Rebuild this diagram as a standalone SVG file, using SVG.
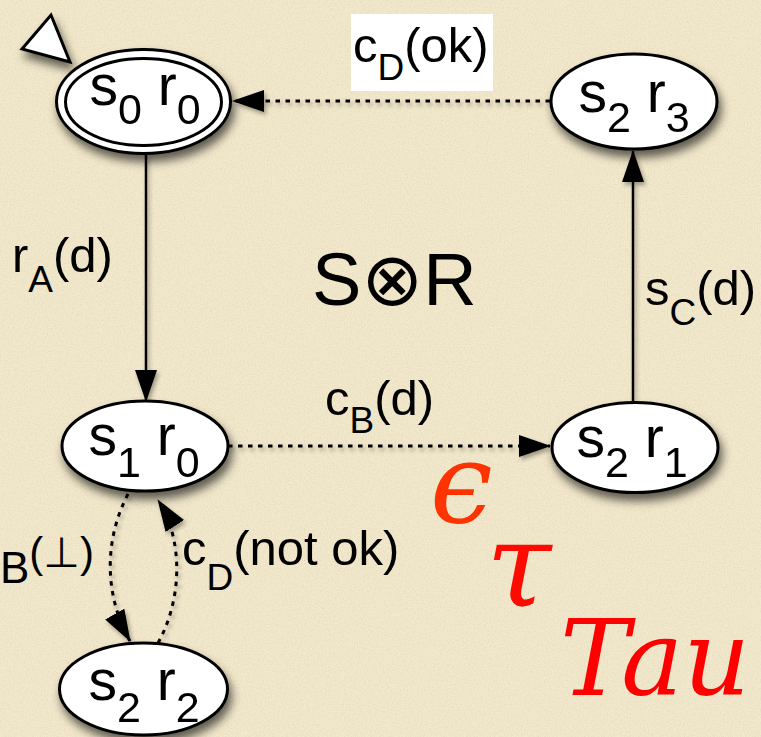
<svg xmlns="http://www.w3.org/2000/svg" width="761" height="737" viewBox="0 0 761 737">
<defs>
<style>
.bg{fill:#f2e8cc}
.node ellipse{fill:#fff;stroke:#000;stroke-width:3}
.nt{font-family:"Liberation Sans",Arial,sans-serif;font-size:57px;fill:#000;text-anchor:middle}
.ns{font-size:43px}
.lbl{font-family:"Liberation Sans","DejaVu Sans",Arial,sans-serif;font-size:49px;fill:#000}
.ls{font-size:37px}
.big{font-size:74px}
.bb{font-size:44px}
.mid{font-size:42px}
.edge{fill:none;stroke:#000;stroke-width:2.5}
.dot{stroke-width:3;stroke-dasharray:4.5 5.5}
.math{font-family:"DejaVu Serif","Liberation Serif",serif;font-style:italic}
</style>
<filter id="paper" x="0" y="0" width="100%" height="100%">
<feTurbulence type="fractalNoise" baseFrequency="0.7" numOctaves="3" seed="4"/>
<feColorMatrix type="matrix" values="0 0 0 0 0.45  0 0 0 0 0.38  0 0 0 0 0.22  1 0 0 0 -0.4"/>
</filter>
<filter id="sh" x="-30%" y="-30%" width="160%" height="170%">
<feDropShadow dx="3" dy="7" stdDeviation="5" flood-color="#000" flood-opacity="0.6"/>
</filter>
<filter id="lsh" x="-30%" y="-30%" width="160%" height="160%">
<feDropShadow dx="2" dy="3" stdDeviation="2" flood-color="#000" flood-opacity="0.35"/>
</filter>
<marker id="ah" viewBox="0 0 32 22" refX="31" refY="11" markerWidth="32" markerHeight="22" markerUnits="userSpaceOnUse" orient="auto">
<path d="M0,0 L32,11 L0,22 z" fill="#000"/>
</marker>
</defs>
<rect class="bg" x="0" y="0" width="761" height="737"/>
<rect x="0" y="0" width="761" height="737" filter="url(#paper)" opacity="0.4"/>

<g id="connectors" filter="url(#lsh)">
<path class="edge" d="M146,155 L146,401" marker-end="url(#ah)"/>
<path class="edge dot" d="M228,446 L550,446" marker-end="url(#ah)"/>
<path class="edge" d="M633,402 L633,151" marker-end="url(#ah)"/>
<path class="edge dot" d="M550,101 L233,101" marker-end="url(#ah)"/>
<path class="edge dot" d="M128,494 C104,540 104,595 130,641" marker-end="url(#ah)"/>
<path class="edge dot" d="M158,643 C182,600 184,540 158,500" marker-end="url(#ah)"/>
</g>

<g id="start" filter="url(#sh)">
<polygon points="22,49 51,15 70,62" fill="#fff" stroke="#000" stroke-width="3" stroke-linejoin="miter"/>
</g>

<g id="n_s0r0" class="node" filter="url(#sh)">
<ellipse cx="143.5" cy="101.5" rx="87" ry="52"/>
<ellipse cx="143.5" cy="102" rx="78" ry="43.5"/>
<text class="nt" x="145" y="105">s<tspan class="ns" dy="19">0</tspan><tspan dy="-19"> r</tspan><tspan class="ns" dy="19">0</tspan></text>
</g>
<g id="n_s2r3" class="node" filter="url(#sh)">
<ellipse cx="634" cy="101.5" rx="83" ry="47.5"/>
<text class="nt" x="634" y="112">s<tspan class="ns" dy="20">2</tspan><tspan dy="-20"> r</tspan><tspan class="ns" dy="20">3</tspan></text>
</g>
<g id="n_s1r0" class="node" filter="url(#sh)">
<ellipse cx="145" cy="446" rx="83" ry="45"/>
<text class="nt" x="144" y="455">s<tspan class="ns" dy="22">1</tspan><tspan dy="-22"> r</tspan><tspan class="ns" dy="22">0</tspan></text>
</g>
<g id="n_s2r1" class="node" filter="url(#sh)">
<ellipse cx="635" cy="447.5" rx="83" ry="45"/>
<text class="nt" x="632" y="457">s<tspan class="ns" dy="20">2</tspan><tspan dy="-20"> r</tspan><tspan class="ns" dy="20">1</tspan></text>
</g>
<g id="n_s2r2" class="node" filter="url(#sh)">
<ellipse cx="143.5" cy="689" rx="84" ry="46"/>
<text class="nt" x="144" y="700">s<tspan class="ns" dy="22">2</tspan><tspan dy="-22"> r</tspan><tspan class="ns" dy="22">2</tspan></text>
</g>

<g id="labels">
<rect x="351" y="14" width="142" height="77" fill="#fff"/>
<text class="lbl" x="353" y="62">c<tspan class="ls" dy="18">D</tspan><tspan dy="-18">(ok)</tspan></text>
<text class="lbl" x="12" y="272">r<tspan class="ls" dy="20">A</tspan><tspan dy="-20">(d)</tspan></text>
<text class="lbl big" x="312" y="305">S⊗R</text>
<text class="lbl" x="645" y="305">s<tspan class="ls" dy="20">C</tspan><tspan dy="-20">(d)</tspan></text>
<text class="lbl" x="325" y="415">c<tspan class="ls" dy="18">B</tspan><tspan dy="-18">(d)</tspan></text>
<text class="lbl" x="0" y="583"><tspan class="bb">B</tspan><tspan class="mid" dy="-16">(⊥)</tspan></text>
<text class="lbl" x="182" y="565">c<tspan class="ls" dy="25">D</tspan><tspan dy="-25">(not ok)</tspan></text>
<text class="math" x="430" y="522" font-size="112" fill="#ff3300">ϵ</text>
<text class="math" x="486" y="606" font-size="118" fill="#ff0a00">τ</text>
<text class="math" x="560" y="695" font-size="104" fill="#ff0000">Tau</text>
</g>
</svg>
